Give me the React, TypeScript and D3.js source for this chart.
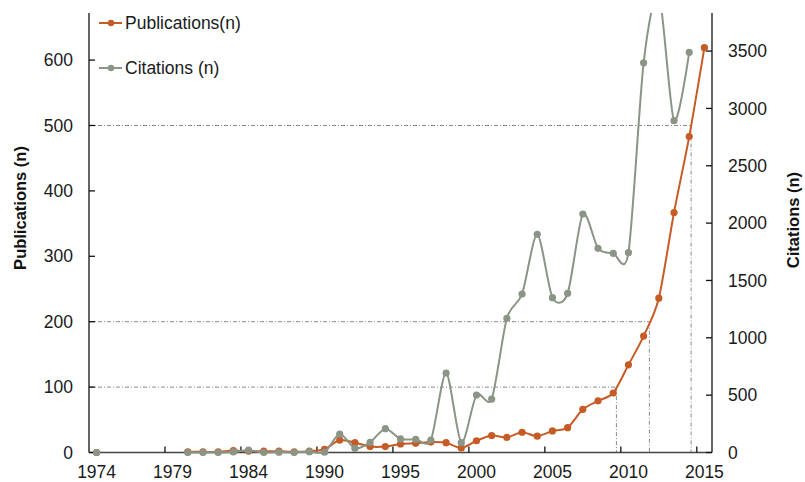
import React from "react";
import * as d3 from "d3";

// Category axis (one column per year shown; labels every 5th column)
const years: number[] = [
  1974, 1975, 1976, 1977, 1978, 1979, 1980, 1981, 1982, 1983, 1984,
  1986, 1987, 1988, 1989, 1990, 1991, 1992, 1993, 1994, 1995,
  1996, 1997, 1998, 1999, 2000, 2001, 2002, 2003, 2004, 2005,
  2006, 2007, 2008, 2009, 2010, 2011, 2012, 2013, 2014, 2015,
];

const publications: (number | null)[] = [
  0, null, null, null, null, null, 1, 1, 1, 3, 2,
  2, 2, 1, 2, 5, 19, 15, 9, 9, 13,
  14, 16, 15, 7, 18, 26, 23, 31, 25, 33,
  38, 66, 79, 91, 134, 178, 236, 367, 483, 619,
];

const citations: (number | null)[] = [
  0, null, null, null, null, null, 0, 0, 0, 5, 20,
  0, 3, 0, 7, 2, 161, 37, 89, 208, 118,
  115, 109, 693, 86, 501, 466, 1170, 1382, 1902, 1350,
  1388, 2079, 1780, 1737, 1742, 3398, 4000, 2893, 3489, null,
];

const leftTicks: number[] = [0, 100, 200, 300, 400, 500, 600];
const rightTicks: number[] = [0, 500, 1000, 1500, 2000, 2500, 3000, 3500];
const milestones: number[] = [100, 200, 500];

const W = 805;
const H = 482;
const left = 89;
const right = 712;
const top = 13;
const bottom = 452.5;

const ORANGE = "#C65B26";
const GREY = "#8A9586";
const FONT = "'Liberation Sans', Arial, sans-serif";

export default function App() {
  const n = years.length;
  const x = d3.scaleLinear().domain([-0.5, n - 0.5]).range([left, right]);
  const yL = d3.scaleLinear().domain([0, 672]).range([bottom, top]);
  const yR = d3.scaleLinear().domain([0, 3832]).range([bottom, top]);

  const idx = d3.range(n);
  const curve = d3.curveCardinal.tension(0.2);

  const pubLine = d3
    .line<number>()
    .defined((i) => publications[i] != null)
    .x((i) => x(i))
    .y((i) => yL(publications[i] as number))
    .curve(curve);
  const citLine = d3
    .line<number>()
    .defined((i) => citations[i] != null)
    .x((i) => x(i))
    .y((i) => yR(citations[i] as number))
    .curve(curve);

  // where publications first cross each milestone (linear interpolation)
  const crossings = milestones.map((m) => {
    for (let i = 1; i < n; i++) {
      const a = publications[i - 1];
      const b = publications[i];
      if (a != null && b != null && a < m && b >= m) {
        return { m, xi: i - 1 + (m - a) / (b - a) };
      }
    }
    return { m, xi: n - 1 };
  });

  const labelIdx = idx.filter((i) => i % 5 === 0);
  const tickIdx = idx.filter((i) => i % 5 === 4 && i < n - 1).map((i) => i + 0.5);

  return (
    <svg width={W} height={H} style={{ position: "absolute", left: 0, top: 0 }} fontFamily={FONT}>
      <defs>
        <clipPath id="plot">
          <rect x={left} y={top} width={right - left} height={bottom - top + 6} />
        </clipPath>
      </defs>
      <rect x={0} y={0} width={W} height={H} fill="#fff" />

      {/* milestone guide lines */}
      {crossings.map((c) => (
        <g key={c.m} stroke="#8a8a8a" strokeWidth={1} strokeDasharray="4,2,1,2" fill="none">
          <line x1={left} x2={x(c.xi)} y1={yL(c.m)} y2={yL(c.m)} />
          <line x1={x(c.xi)} x2={x(c.xi)} y1={yL(c.m)} y2={bottom} />
        </g>
      ))}

      {/* axes */}
      <g stroke="#111" strokeWidth={1.3}>
        <line x1={left} x2={left} y1={top} y2={bottom} />
        <line x1={right} x2={right} y1={top} y2={bottom} />
        <line x1={left} x2={right} y1={bottom} y2={bottom} stroke="#444" />
        {leftTicks.map((t) => (
          <line key={"l" + t} x1={left} x2={left + 6} y1={yL(t)} y2={yL(t)} />
        ))}
        {rightTicks.map((t) => (
          <line key={"r" + t} x1={right - 6} x2={right} y1={yR(t)} y2={yR(t)} />
        ))}
        {tickIdx.map((t) => (
          <line key={"x" + t} x1={x(t)} x2={x(t)} y1={bottom - 6} y2={bottom} />
        ))}
      </g>

      {/* tick labels */}
      <g fontSize={17.5} fill="#1a1a1a">
        {leftTicks.map((t) => (
          <text key={"lt" + t} x={73} y={yL(t)} dy="0.35em" textAnchor="end">
            {t}
          </text>
        ))}
        {rightTicks.map((t) => (
          <text key={"rt" + t} x={728} y={yR(t)} dy="0.35em" textAnchor="start">
            {t}
          </text>
        ))}
        {labelIdx.map((i) => (
          <text key={"xt" + i} x={x(i)} y={478} textAnchor="middle">
            {years[i]}
          </text>
        ))}
      </g>

      {/* axis titles */}
      <text
        transform="translate(26,208) rotate(-90)"
        textAnchor="middle"
        fontSize={16.5}
        fontWeight="bold"
        fill="#111"
      >
        Publications (n)
      </text>
      <text
        transform="translate(799,220) rotate(-90)"
        textAnchor="middle"
        fontSize={16.5}
        fontWeight="bold"
        fill="#111"
      >
        Citations (n)
      </text>

      {/* series */}
      <g clipPath="url(#plot)">
        <path d={pubLine(idx) || ""} fill="none" stroke={ORANGE} strokeWidth={2} />
        {idx
          .filter((i) => publications[i] != null)
          .map((i) => (
            <circle key={"p" + i} cx={x(i)} cy={yL(publications[i] as number)} r={3.6} fill={ORANGE} />
          ))}
        <path d={citLine(idx) || ""} fill="none" stroke={GREY} strokeWidth={2} />
        {idx
          .filter((i) => citations[i] != null)
          .map((i) => (
            <circle key={"c" + i} cx={x(i)} cy={yR(citations[i] as number)} r={3.6} fill={GREY} />
          ))}
      </g>

      {/* legend */}
      <g>
        <line x1={99} x2={122} y1={23} y2={23} stroke={ORANGE} strokeWidth={2} />
        <circle cx={111} cy={23} r={3.2} fill={ORANGE} />
        <text x={125} y={23} dy="0.35em" fontSize={17.5} fill="#1a1a1a">
          Publications(n)
        </text>
        <line x1={99} x2={122} y1={68} y2={68} stroke={GREY} strokeWidth={2} />
        <circle cx={111} cy={68} r={3.2} fill={GREY} />
        <text x={125} y={68} dy="0.35em" fontSize={17.5} fill="#1a1a1a">
          Citations (n)
        </text>
      </g>
    </svg>
  );
}
